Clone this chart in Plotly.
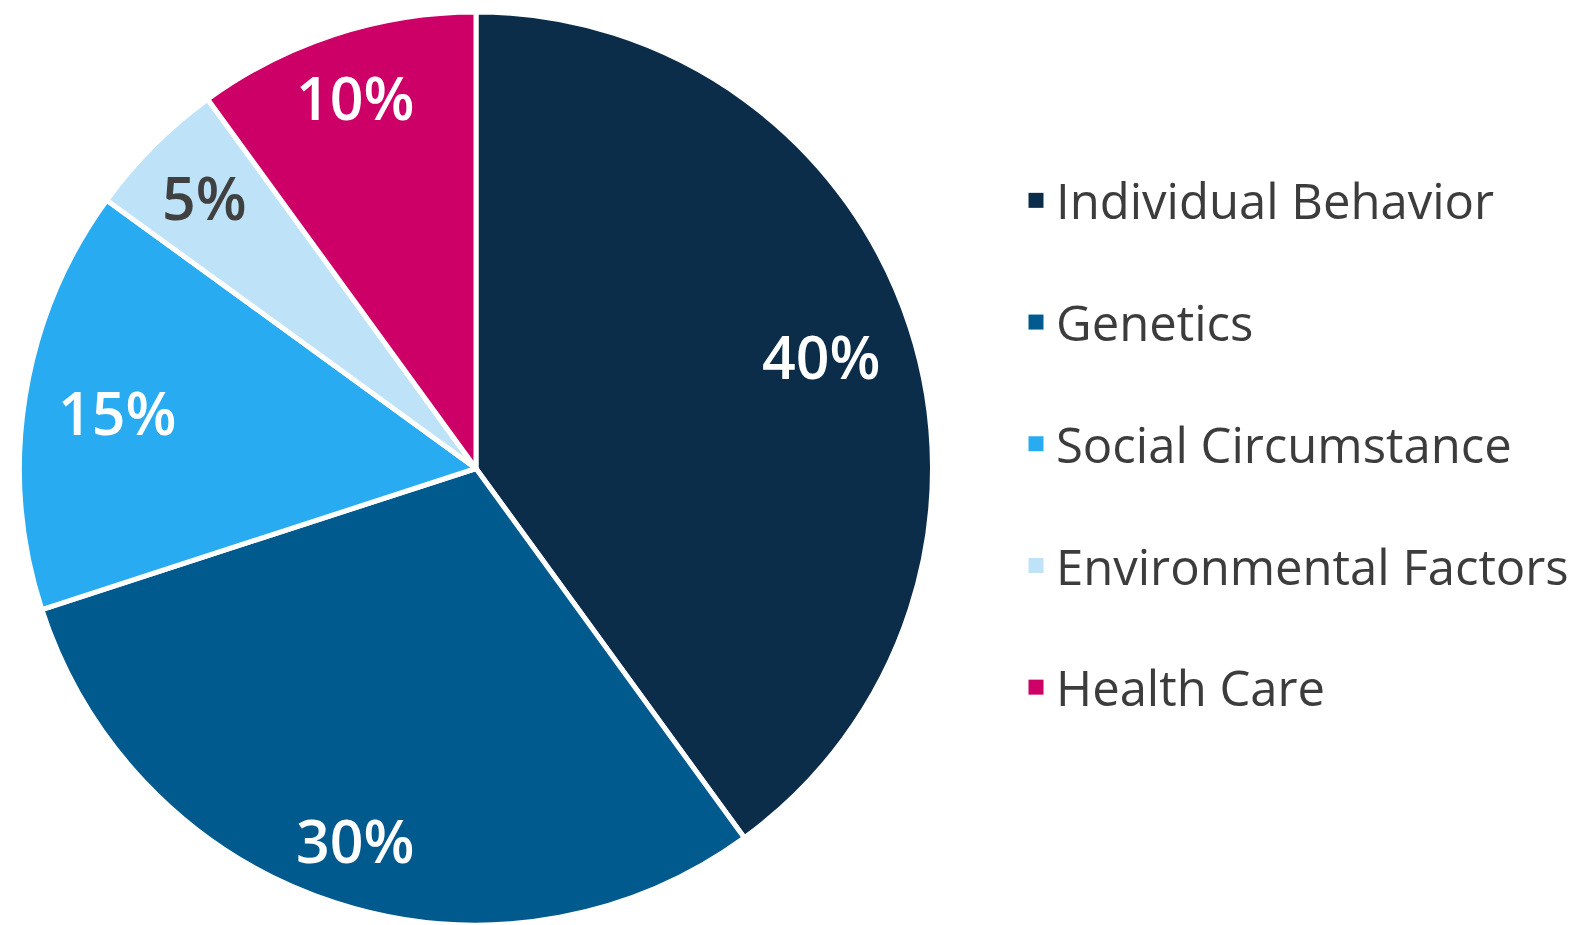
import math

import plotly.graph_objects as go

# slices, clockwise from 12 o'clock
labels = ['Individual Behavior', 'Genetics', 'Social Circumstance',
          'Environmental Factors', 'Health Care']
values = [40, 30, 15, 5, 10]
colors = ['#0B2D4A', '#005A8E', '#29ABF2', '#BEE3F8', '#CC0066']
textColors = ['#FFFFFF', '#FFFFFF', '#FFFFFF', '#404040', '#FFFFFF']

FONT = 'Open Sans'
W, H = 1568, 917          # page body keeps its 8px default margin
PIE_L, PIE_R, PIE_T, PIE_B = 10, 926, 4, 917
LABEL_SIZE = 59

fig = go.Figure()
fig.add_trace(go.Pie(
    labels=labels, values=values, sort=False,
    direction='clockwise', rotation=0,
    marker={'colors': colors, 'line': {'color': '#FFFFFF', 'width': 5}},
    textinfo='none', showlegend=False,
    hovertemplate='%{label}: %{percent}<extra></extra>',
    domain={'x': [PIE_L / W, PIE_R / W], 'y': [1 - PIE_B / H, 1 - PIE_T / H]},
))

# legend entries: one empty trace per slice so the group gap spaces them out
for name, col in zip(labels, colors):
    fig.add_trace(go.Scatter(
        x=[None], y=[None], mode='markers', name=name, legendgroup=name,
        marker={'symbol': 'square', 'size': 15, 'color': col},
    ))

# percent labels placed near the outer edge, inside each slice
cx, cy = (PIE_L + PIE_R) / 2, (PIE_T + PIE_B) / 2
radius = min(PIE_R - PIE_L, PIE_B - PIE_T) / 2
total = sum(values)
cum = 0
for v, tc in zip(values, textColors):
    text = f'{round(100 * v / total)}%'
    theta = math.radians(360 * (cum + v / 2) / total)
    cum += v
    halfW = (0.572 * (len(text) - 1) + 0.846) * LABEL_SIZE / 2
    halfH = 15
    d = radius - 33 - (halfW * abs(math.sin(theta)) + halfH * abs(math.cos(theta)))
    px = cx + d * math.sin(theta)
    py = cy - d * math.cos(theta)
    fig.add_annotation(
        x=px / W, y=1 - py / H, xref='paper', yref='paper',
        text=text, showarrow=False, xanchor='center', yanchor='middle',
        font={'family': FONT, 'size': LABEL_SIZE, 'color': tc, 'weight': 600},
    )

fig.update_layout(
    width=W, height=H,
    margin={'l': 0, 'r': 0, 't': 0, 'b': 0},
    paper_bgcolor='#FFFFFF', plot_bgcolor='#FFFFFF',
    font={'family': FONT, 'color': '#3C3C3C'},
    xaxis={'visible': False}, yaxis={'visible': False},
    legend={
        'x': 1008 / W, 'y': 1 - 154 / H, 'xanchor': 'left', 'yanchor': 'top',
        'font': {'family': FONT, 'size': 49, 'color': '#3C3C3C'},
        'traceorder': 'grouped', 'tracegroupgap': 55,
        'bgcolor': 'rgba(0,0,0,0)',
    },
)
fig.write_html('out.html')
